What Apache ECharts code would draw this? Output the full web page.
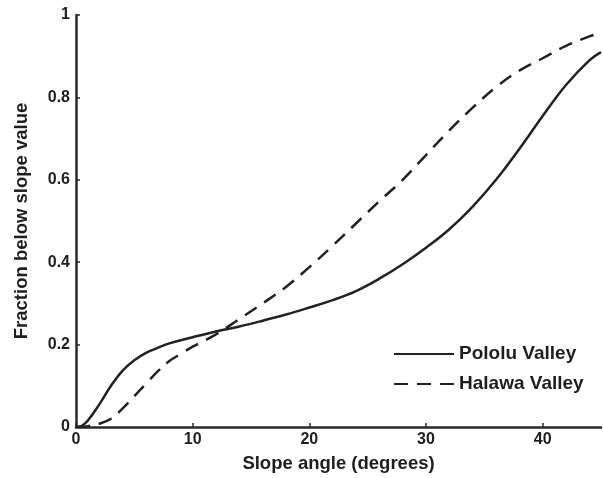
<!DOCTYPE html>
<html>
<head>
<meta charset="utf-8">
<script src="https://cdn.jsdelivr.net/npm/echarts@6/dist/echarts.min.js"></script>
<style>html,body{margin:0;padding:0;background:#fff}#c{width:603px;height:478px}</style>
</head>
<body>
<div id="c"></div>
<script>
var pololuX = [0,0.5,1,2,3,4,5,6,7,8,10,12,14,16,18,20,22,24,26,28,30,32,34,36,38,40,42,44,45];
var pololuY = [0,0.003,0.015,0.055,0.1,0.137,0.162,0.18,0.192,0.203,0.218,0.232,0.244,0.258,0.273,0.29,0.308,0.33,0.36,0.395,0.435,0.48,0.535,0.6,0.675,0.755,0.83,0.89,0.91];
var halawaX = [0,1,2,3,4,5,6,7,8,9,10,12,14,16,18,20,22,24,26,28,30,32,34,36,38,40,42,44,45];
var halawaY = [0,0.002,0.008,0.02,0.045,0.075,0.105,0.135,0.16,0.178,0.195,0.225,0.262,0.3,0.34,0.388,0.44,0.494,0.548,0.6,0.66,0.72,0.775,0.825,0.865,0.895,0.925,0.948,0.957];
var seriesNames = ['Pololu Valley', 'Halawa Valley'];
var xTicks = [0,10,20,30,40];
var yTicks = [0,0.2,0.4,0.6,0.8,1];

function pairs(xs, ys){ return xs.map(function(x,i){ return [x, ys[i]]; }); }

var font = 'Liberation Sans, Arial, Helvetica, sans-serif';
var ink = '#1e1e1e';
var chart = echarts.init(document.getElementById('c'));
chart.setOption({
  animation: false,
  backgroundColor: '#fff',
  grid: {left: 76, right: 2, top: 15, bottom: 47, containLabel: false},
  legend: {
    data: seriesNames,
    orient: 'vertical',
    left: 393, top: 344,
    padding: 0,
    itemWidth: 60, itemHeight: 14, itemGap: 10,
    itemStyle: {opacity: 0},
    textStyle: {fontFamily: font, fontWeight: 'bold', fontSize: 19, lineHeight: 20, color: ink},
    selectedMode: false
  },
  xAxis: {
    type: 'value', min: 0, max: 45, interval: 10,
    name: 'Slope angle (degrees)', nameLocation: 'middle', nameGap: 27,
    nameTextStyle: {fontFamily: font, fontWeight: 'bold', fontSize: 18.5, color: ink},
    axisLine: {show: true, lineStyle: {color: '#2a2a2a', width: 2.5}},
    axisTick: {show: true, inside: true, length: 4, lineStyle: {color: '#2a2a2a', width: 1.5}},
    axisLabel: {fontFamily: font, fontWeight: 'bold', fontSize: 16, color: ink, margin: 5,
      showMaxLabel: false,
      formatter: function(v){ return xTicks.indexOf(v) >= 0 ? String(v) : ''; }},
    splitLine: {show: false}
  },
  yAxis: {
    type: 'value', min: 0, max: 1, interval: 0.2,
    name: 'Fraction below slope value', nameLocation: 'middle', nameGap: 45,
    nameTextStyle: {fontFamily: font, fontWeight: 'bold', fontSize: 18.5, color: ink},
    axisLine: {show: true, lineStyle: {color: '#2a2a2a', width: 2.5}},
    axisTick: {show: true, inside: true, length: 4, lineStyle: {color: '#2a2a2a', width: 1.5}},
    axisLabel: {fontFamily: font, fontWeight: 'bold', fontSize: 16, color: ink, margin: 6,
      formatter: function(v){ var r = Math.round(v*10)/10; return yTicks.indexOf(r) >= 0 ? String(r) : ''; }},
    splitLine: {show: false}
  },
  series: [
    {name: seriesNames[0], type: 'line', data: pairs(pololuX, pololuY), smooth: 0.4, symbol: 'none',
     lineStyle: {color: '#222', width: 2.5, type: 'solid'}, itemStyle: {color: '#222'}},
    {name: seriesNames[1], type: 'line', data: pairs(halawaX, halawaY), smooth: 0.4, symbol: 'none',
     lineStyle: {color: '#222', width: 2.5, type: [14, 9]}, itemStyle: {color: '#222'}}
  ]
});
</script>
</body>
</html>
